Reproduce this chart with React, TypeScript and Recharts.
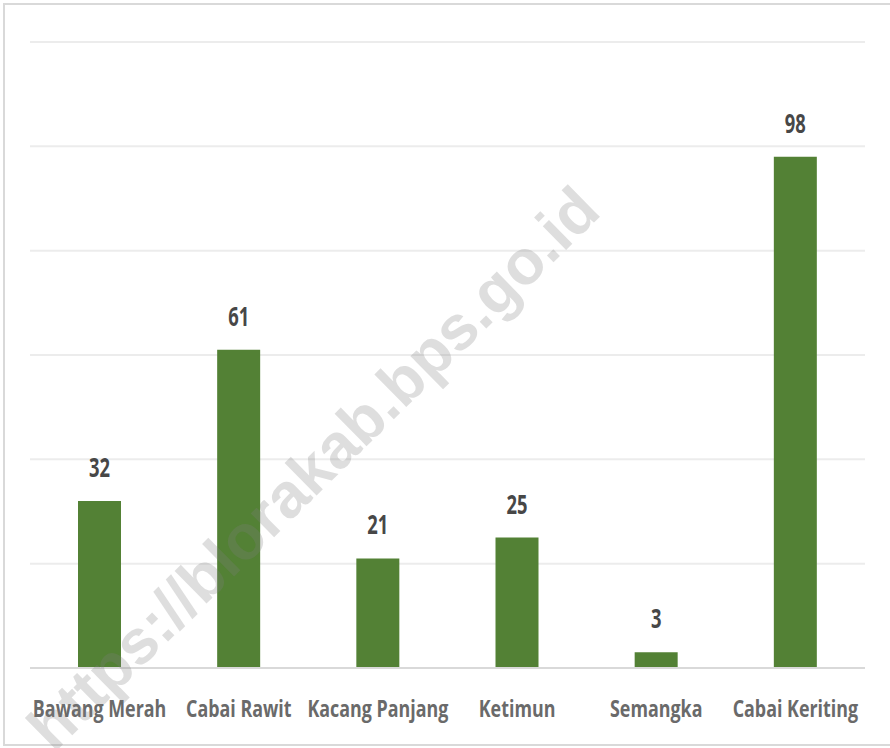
import { BarChart, Bar, XAxis, YAxis, CartesianGrid, LabelList } from 'recharts';

const crops = ['Bawang Merah', 'Cabai Rawit', 'Kacang Panjang', 'Ketimun', 'Semangka', 'Cabai Keriting'];
const values = [32, 61, 21, 25, 3, 98];
const yTicks = [0, 20, 40, 60, 80, 100, 120];

const data = crops.map((name, i) => ({ name, value: values[i] }));

const FONT = '"Open Sans", sans-serif';

function CropTick(props: any) {
  const { x, y, payload } = props;
  return (
    <g transform={`translate(${x},${y}) scale(0.745,1)`}>
      <text x={0} y={0} dy={41} textAnchor="middle" fill="#6a6a6a" fontFamily={FONT} fontWeight={700} fontSize={24}>
        {payload.value}
      </text>
    </g>
  );
}

function ValueLabel(props: any) {
  const { x, y, width, value } = props;
  const cx = x + width / 2;
  return (
    <g transform={`translate(${cx},${y}) scale(0.68,1)`}>
      <text x={0} y={-24} textAnchor="middle" fill="#474747" fontFamily={FONT} fontWeight={700} fontSize={27}>
        {value}
      </text>
    </g>
  );
}

export default function App() {
  return (
    <div style={{ position: 'absolute', left: 0, top: 0, width: 890, height: 748, background: '#fff' }}>
      <div
        style={{
          position: 'absolute',
          left: 3,
          top: 3,
          width: 890,
          height: 743,
          border: '2px solid #d9d9d9',
          boxSizing: 'border-box',
        }}
      />
      <div style={{ position: 'absolute', left: 0, top: 0 }}>
        <BarChart width={890} height={748} data={data} margin={{ top: 42, right: 25, left: 30, bottom: 20 }}>
          <CartesianGrid vertical={false} stroke="#ececec" strokeWidth={2} />
          <YAxis hide domain={[0, 120]} ticks={yTicks} />
          <XAxis
            dataKey="name"
            height={60}
            tickLine={false}
            axisLine={{ stroke: '#d9d9d9', strokeWidth: 2 }}
            tick={<CropTick />}
            interval={0}
          />
          <Bar dataKey="value" fill="#538135" barSize={43} isAnimationActive={false}>
            <LabelList dataKey="value" content={<ValueLabel />} />
          </Bar>
        </BarChart>
      </div>
      <svg width={890} height={748} style={{ position: 'absolute', left: 0, top: 0, pointerEvents: 'none' }}>
        <text
          x={313}
          y={468}
          textAnchor="middle"
          dominantBaseline="central"
          transform="rotate(-44.5 313 468)"
          fontFamily='"Liberation Sans", Arial, sans-serif'
          fontWeight={700}
          fontSize={63}
          fill="#808080"
          fillOpacity={0.26}
        >
          https://blorakab.bps.go.id
        </text>
      </svg>
    </div>
  );
}
